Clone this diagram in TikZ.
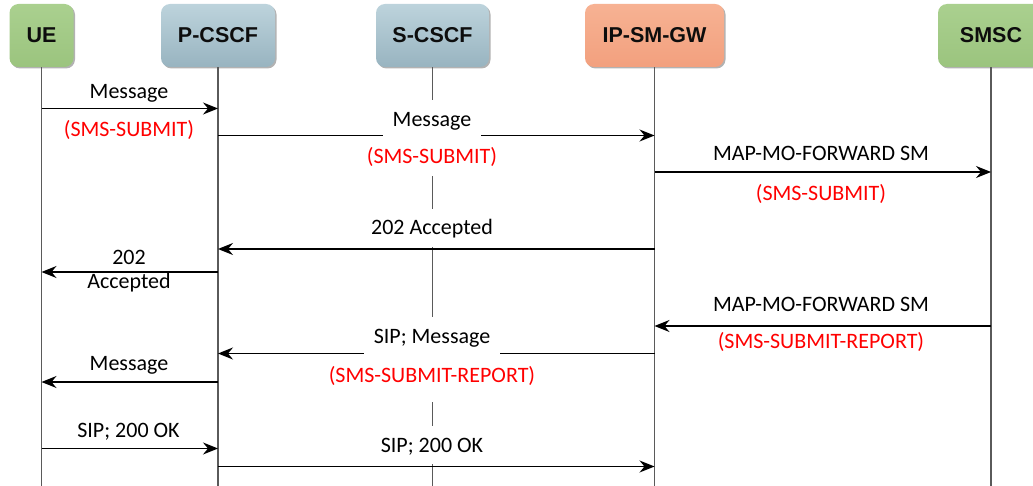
\documentclass[tikz,border=0pt]{standalone}
\usepackage{fontspec}
\usetikzlibrary{arrows.meta,shadows}
\newfontfamily\lblfont{Carlito}
\newfontfamily\ttlfont{Liberation Sans}
\definecolor{gtop}{HTML}{AAD08F}
\definecolor{gbot}{HTML}{9BC47E}
\definecolor{btop}{HTML}{BDD3DC}
\definecolor{bbot}{HTML}{98B4C0}
\definecolor{otop}{HTML}{F7B293}
\definecolor{obot}{HTML}{F2A07E}
\definecolor{lifec}{HTML}{5A5A5A}
\definecolor{redc}{HTML}{FF0000}
\begin{document}
\begin{tikzpicture}[x=1pt,y=-1pt,
  ent/.style={rounded corners=9pt, minimum height=63pt, inner sep=0pt,
    font=\ttlfont\bfseries\fontsize{21.5pt}{24pt}\selectfont, text=black!95,
    drop shadow={shadow xshift=1.5pt, shadow yshift=-1.5pt, opacity=0.3, fill=black}},
  grn/.style={top color=gtop, bottom color=gbot},
  blu/.style={top color=btop, bottom color=bbot},
  org/.style={top color=otop, bottom color=obot},
  life/.style={draw=lifec, line width=1.3pt},
  msg/.style={draw=black, line width=1.3pt, -{Stealth[length=15pt,width=12pt,inset=5pt]}},
  lbl/.style={font=\lblfont\fontsize{22pt}{26pt}\selectfont, inner sep=0pt, text height=14pt, text depth=0pt},
  rlbl/.style={lbl, text=redc},
  sbox/.style={fill=white, inner xsep=10pt, minimum height=38pt},
]
\useasboundingbox (0,0) rectangle (1033,486);
\clip (0,0) rectangle (1033,486);

% entities
\node[ent,grn,minimum width=64pt]  (ue) at (41.5,35.5) {UE};
\node[ent,blu,minimum width=114pt] (pc) at (218,35.5) {P-CSCF};
\node[ent,blu,minimum width=113pt] (sc) at (432.5,35.5) {S-CSCF};
\node[ent,org,minimum width=139pt] (ip) at (654.5,35.5) {IP-SM-GW};
\node[ent,grn,minimum width=106pt] (sm) at (991,35.5) {SMSC};

% rows
\coordinate (bot) at (0,486);
\coordinate (r1) at (0,108.5);
\coordinate (r2) at (0,135.5);
\coordinate (r3) at (0,172);
\coordinate (r4) at (0,249);
\coordinate (r5) at (0,272);
\coordinate (r6) at (0,326);
\coordinate (r7) at (0,353.5);
\coordinate (r8) at (0,382);
\coordinate (r9) at (0,448.5);
\coordinate (r10) at (0,466.5);

% lifelines
\foreach \n in {ue,pc,sc,ip,sm} \draw[life] (\n.south) -- (\n |- bot);

% messages
\draw[msg] (ue |- r1) -- (pc |- r1);
\draw[msg] (pc |- r2) -- (ip |- r2);
\draw[msg] (ip |- r3) -- (sm |- r3);
\draw[msg] (ip |- r4) -- (pc |- r4);
\draw[msg] (pc |- r5) -- (ue |- r5);
\draw[msg] (sm |- r6) -- (ip |- r6);
\draw[msg] (ip |- r7) -- (pc |- r7);
\draw[msg] (pc |- r8) -- (ue |- r8);
\draw[msg] (ue |- r9) -- (pc |- r9);
\draw[msg] (pc |- r10) -- (ip |- r10);

% labels
\node[lbl]  (l1a) at (129,91.5) {Message};
\node[rlbl] (l1b) at (129,130) {(SMS-SUBMIT)};
\node[lbl,sbox]  (l2a) at (432,119.5) {Message};
\node[rlbl,sbox] (l2b) at (432,157) {(SMS-SUBMIT)};
\node[lbl]  (l3a) at (821,153.5) {MAP-MO-FORWARD SM};
\node[rlbl] (l3b) at (821,194) {(SMS-SUBMIT)};
\node[lbl,sbox] (l4) at (432,228) {202 Accepted};
\node[lbl] (l5a) at (129,257.5) {202};
\node[lbl] (l5b) at (129,281.5) {Accepted};
\node[lbl]  (l6a) at (821,304.5) {MAP-MO-FORWARD SM};
\node[rlbl] (l6b) at (821,341.5) {(SMS-SUBMIT-REPORT)};
\node[lbl,sbox,minimum height=39pt] (l7a) at (432,336) {SIP; Message};
\node[rlbl,sbox,minimum height=46.5pt,text depth=6.5pt] (l7b) at (432,378.75) {(SMS-SUBMIT-REPORT)};
\node[lbl] (l8) at (129,363.5) {Message};
\node[lbl] (l9) at (128.5,430) {SIP; 200 OK};
\node[lbl,sbox] (l10) at (432,445) {SIP; 200 OK};
\end{tikzpicture}
\end{document}
